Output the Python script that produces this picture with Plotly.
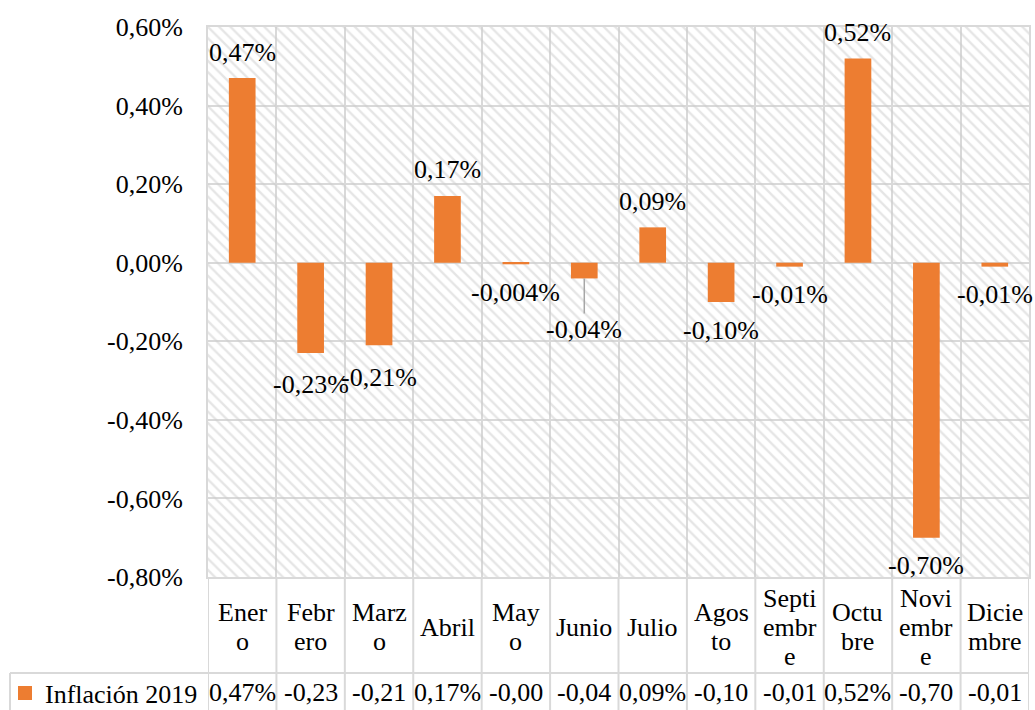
import plotly.graph_objects as go

# ---- data ----
months = ["Enero", "Febrero", "Marzo", "Abril", "Mayo", "Junio", "Julio",
          "Agosto", "Septiembre", "Octubre", "Noviembre", "Diciembre"]
header_labels = ["Ener<br>o", "Febr<br>ero", "Marz<br>o", "Abril", "May<br>o", "Junio",
                 "Julio", "Agos<br>to", "Septi<br>embr<br>e", "Octu<br>bre",
                 "Novi<br>embr<br>e", "Dicie<br>mbre"]
inflacion_2019 = [0.47, -0.23, -0.21, 0.17, -0.004, -0.04, 0.09, -0.10, -0.01, 0.52, -0.70, -0.01]
series_name = "Inflación 2019"
y_ticks = [0.6, 0.4, 0.2, 0.0, -0.2, -0.4, -0.6, -0.8]

# ---- styling ----
FONT = "Liberation Serif"
FS = 26
ORANGE = "#ED7D31"
GRID = "#d9d9d9"
W, H = 1035, 710
L, R, T, B = 208, 6, 27, 133
PH = H - T - B  # plot height in px
LINE_H = 29


def py(px):
    """pixel y (from top) -> paper y"""
    return (H - B - px) / PH


def px_x(px):
    return (px - L) / (W - L - R)


def fmt_label(v):
    d = 3 if 0 < abs(v) < 0.01 else 2
    return f"{v:.{d}f}".replace(".", ",") + "%"


def fmt_table(v):
    return f"{v:.2f}".replace(".", ",") + ("%" if v >= 0 else "")


ymin, ymax = min(y_ticks), max(y_ticks)

fig = go.Figure()

# hatched plot-area background
fig.add_trace(go.Bar(
    x=months, y=[ymax - ymin] * len(months), base=[ymin] * len(months), width=1,
    marker=dict(color="rgba(0,0,0,0)", line=dict(width=0),
                pattern=dict(shape="\\", fgcolor="#cccccc", bgcolor="rgba(0,0,0,0)",
                             size=8, solidity=0.3)),
    showlegend=False, hoverinfo="skip"))

fig.add_trace(go.Bar(
    x=months, y=inflacion_2019, width=0.39, name=series_name, showlegend=False,
    marker=dict(color=ORANGE, line=dict(width=0))))

# legend entry (square key)
fig.add_trace(go.Scatter(
    x=[None], y=[None], mode="markers", name=series_name,
    marker=dict(symbol="square", size=14, color=ORANGE)))

annotations = []
offset_override = {"Febrero": 31, "Marzo": 32, "Junio": 51}
for m, v in zip(months, inflacion_2019):
    off = offset_override.get(m, 28 if v < 0 else -26)
    annotations.append(dict(
        x=m, y=v, xref="x", yref="y", text=fmt_label(v), showarrow=True,
        arrowhead=0, arrowwidth=1.5, standoff=0,
        arrowcolor="#a6a6a6" if m == "Junio" else "rgba(0,0,0,0)",
        ax=0, ay=off, font=dict(family=FONT, size=FS, color="black")))

# data table: header row (wrapped labels) and value row
for m, lab, v in zip(months, header_labels, inflacion_2019):
    lines = lab.split("<br>")
    n = len(lines)
    for i, ln in enumerate(lines):
        yc = 627 + (i - (n - 1) / 2) * LINE_H
        annotations.append(dict(x=m, y=py(yc), xref="x", yref="paper", text=ln,
                                showarrow=False, yanchor="middle",
                                font=dict(family=FONT, size=FS, color="black")))
    annotations.append(dict(x=m, y=py(692), xref="x", yref="paper", text=fmt_table(v),
                            showarrow=False, yanchor="middle",
                            font=dict(family=FONT, size=FS, color="black")))

shapes = []
for i in range(len(months) + 1):
    shapes.append(dict(type="line", xref="x", yref="paper", x0=i - 0.5, x1=i - 0.5,
                       y0=py(H), y1=0, line=dict(color=GRID, width=2)))
shapes.append(dict(type="line", xref="paper", yref="paper", x0=px_x(10), x1=1,
                   y0=py(673), y1=py(673), line=dict(color=GRID, width=2)))
shapes.append(dict(type="line", xref="paper", yref="paper", x0=px_x(10), x1=px_x(10),
                   y0=py(673), y1=py(H), line=dict(color=GRID, width=2)))

fig.update_layout(
    width=W, height=H, barmode="overlay",
    margin=dict(l=L, r=R, t=T, b=B, autoexpand=False),
    paper_bgcolor="white", plot_bgcolor="white",
    font=dict(family=FONT, size=FS, color="black"),
    showlegend=True,
    legend=dict(x=px_x(5), xanchor="left", y=py(693), yanchor="middle",
                bgcolor="rgba(0,0,0,0)", font=dict(family=FONT, size=FS),
                itemclick=False, borderwidth=0),
    annotations=annotations, shapes=shapes,
)
fig.update_xaxes(type="category", range=[-0.5, len(months) - 0.5],
                 showticklabels=False, tickson="boundaries", showgrid=True,
                 gridcolor=GRID, gridwidth=2, showline=True, linecolor=GRID,
                 linewidth=2, mirror=True, ticks="", zeroline=False)
fig.update_yaxes(range=[ymin, ymax], tickvals=y_ticks,
                 ticktext=[f"{t:.2f}".replace(".", ",") + "%" for t in y_ticks],
                 showgrid=True, gridcolor=GRID, gridwidth=2, zeroline=True,
                 zerolinecolor=GRID, zerolinewidth=2, showline=True, linecolor=GRID,
                 linewidth=2, mirror=True, ticks="outside", ticklen=18,
                 tickcolor="rgba(0,0,0,0)", tickfont=dict(family=FONT, size=FS))

fig.write_html("out.html", config={"displayModeBar": False},
               post_script="document.body.style.margin='0';")
